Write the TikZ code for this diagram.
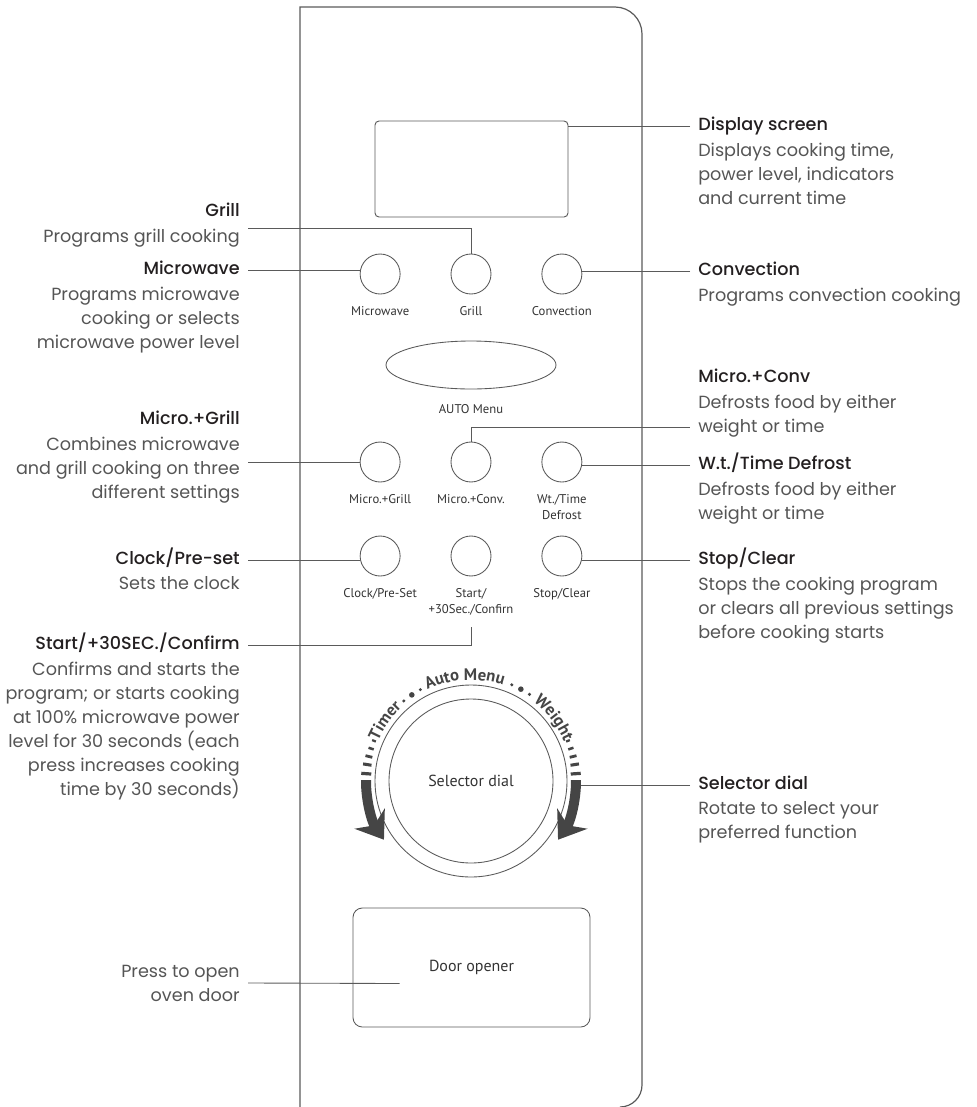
\documentclass[tikz,border=0pt]{standalone}
\usepackage{fontspec}
\setmainfont{Poppins}[BoldFont={Poppins Medium}]
\newfontfamily\panelfont{PT Sans}
\usepackage{tikz}
\usetikzlibrary{positioning,shapes.geometric,arrows.meta,decorations.text,calc}

\definecolor{ink}{HTML}{231F20}
\definecolor{notegray}{HTML}{555555}
\definecolor{wire}{HTML}{5A5A5A}
\definecolor{capgray}{HTML}{333333}
\definecolor{dialink}{HTML}{454545}
\newcommand{\dialfont}{\panelfont\bfseries\fontsize{12.5}{12.5}\selectfont\color{dialink}}

\begin{document}
\begin{tikzpicture}[
    x=0.75pt, y=-0.75pt,
    node distance=37.5pt,
    panel/.style={draw=wire, line width=0.9pt},
    button/.style={circle, draw=wire, line width=0.65pt, minimum size=30pt, inner sep=0pt},
    caption/.style={font=\panelfont\fontsize{9.5}{11.5}\selectfont, text=capgray, inner sep=0pt, align=center},
    heading/.style={font=\bfseries\fontsize{13.2}{18}\selectfont, text=ink, inner xsep=6pt, inner ysep=0pt, text height=9.5pt, text depth=3pt},
    note/.style={font=\fontsize{13.2}{18}\selectfont, text=notegray, inner xsep=6pt, inner ysep=0pt},
    leader/.style={draw=wire, line width=0.65pt},
    sweep/.style={draw=dialink, line width=7.5pt, -{Stealth[length=19pt,width=27pt,inset=6pt]}}
]
\useasboundingbox (0,0) rectangle (976,1107);

% panel outline
\draw[panel] (300,1108) -- (300,7) -- (615,7) arc (-90:0:27) -- (642,1085) arc (0:90:22);

% display and buttons
\node[draw=wire, line width=0.7pt, rounded corners=3pt, minimum width=144.75pt, minimum height=72pt] (disp) at (471.5,169) {};

\node[button] (gr) at (471,274) {};
\node[button, left=of gr] (mw) {};
\node[button, right=of gr] (cv) {};
\node[caption, below=9pt of mw] (mwcap) {Microwave};
\node[caption, below=9pt of gr] (grcap) {Grill};
\node[caption, below=9pt of cv] (cvcap) {Convection};

\node[ellipse, draw=wire, line width=0.65pt, minimum width=127.5pt, minimum height=36pt, inner sep=0pt] (auto) at (471,365) {};
\node[caption, below=11pt of auto] (autocap) {AUTO Menu};

\node[button] (mc) at (471,462) {};
\node[button, left=of mc] (mg) {};
\node[button, right=of mc] (wt) {};
\node[caption, below=9pt of mg] (mgcap) {Micro.+Grill};
\node[caption, below=9pt of mc] (mccap) {Micro.+Conv.};
\node[caption, below=9pt of wt] (wtcap) {Wt./Time\\Defrost};

\node[button] (st) at (471,556) {};
\node[button, left=of st] (ck) {};
\node[button, right=of st] (sc) {};
\node[caption, below=9pt of ck] (ckcap) {Clock/Pre-Set};
\node[caption, below=9pt of st] (stcap) {Start/\\+30Sec./Confirn};
\node[caption, below=9pt of sc] (sccap) {Stop/Clear};

% selector dial
\node[circle, draw=wire, line width=0.65pt, minimum size=144pt, inner sep=0pt, font=\panelfont\fontsize{12}{12}\selectfont, text=capgray] (dial) at (471,781) {Selector dial};
\draw[leader] (dial.center) circle (82);
\draw[sweep] ($(dial.center)+(180.5:105)$) arc (180.5:146:105);
\draw[sweep] ($(dial.center)+(-0.5:105)$) arc (-0.5:34:105);
\foreach \a/\w/\t in {4/10/2.4, 9/8.5/2.3, 13.5/7/2.1, 18/5.5/1.9, 22.5/4/1.7} {
    \draw[dialink, line width=\t pt] ($(dial.center)+(180+\a:105-\w/2)$) -- ($(dial.center)+(180+\a:105+\w/2)$);
    \draw[dialink, line width=\t pt] ($(dial.center)+(-\a:105-\w/2)$) -- ($(dial.center)+(-\a:105+\w/2)$);
}
\path[decorate, decoration={text along path, text align=center, text={|\dialfont|Timer}}]
    ($(dial.center)+(-170:101)$) arc (-170:-120:101);
\path[decorate, decoration={text along path, text align=center, text={|\dialfont|Auto Menu}}]
    ($(dial.center)+(-125:101)$) arc (-125:-62:101);
\path[decorate, decoration={text along path, text align=center, text={|\dialfont|Weight}}]
    ($(dial.center)+(-62:101)$) arc (-62:-13:101);
\foreach \a/\r in {130/1.7, 124.5/2.8, 119/1.7, 67/1.7, 61.5/2.8, 56/1.7}
    \fill[dialink] ($(dial.center)+(-\a:104.5)$) circle (\r);

% door opener
\node[draw=wire, line width=0.65pt, rounded corners=7pt, minimum width=177.75pt, minimum height=89.25pt, font=\panelfont\fontsize{12}{12}\selectfont, text=capgray] (door) at (471.5,967.5) {Door opener};

% left labels
\node[heading, anchor=east] (grhead) at (248,212) {Grill};
\node[note, align=right, below=6pt of grhead.south east, anchor=north east] (grnote) {Programs grill cooking};
\node[heading, anchor=east] (mwhead) at (248,270) {Microwave};
\node[note, align=right, below=6pt of mwhead.south east, anchor=north east] (mwnote) {Programs microwave\\cooking or selects\\microwave power level};
\node[heading, anchor=east] (mghead) at (248,420) {Micro.+Grill};
\node[note, align=right, below=6pt of mghead.south east, anchor=north east] (mgnote) {Combines microwave\\and grill cooking on three\\different settings};
\node[heading, anchor=east] (ckhead) at (248,560) {Clock/Pre-set};
\node[note, align=right, below=6pt of ckhead.south east, anchor=north east] (cknote) {Sets the clock};
\node[heading, anchor=east] (sthead) at (248,645) {Start/+30SEC./Confirm};
\node[note, align=right, below=6pt of sthead.south east, anchor=north east] (stnote) {Confirms and starts the\\program; or starts cooking\\at 100\% microwave power\\level for 30 seconds (each\\press increases cooking\\time by 30 seconds)};
\node[note, align=right, anchor=east] (ponote) at (248,983) {Press to open\\oven door};

% right labels
\node[heading, anchor=west] (dshead) at (690,126) {Display screen};
\node[note, align=left, below=6pt of dshead.south west, anchor=north west] (dsnote) {Displays cooking time,\\power level, indicators\\and current time};
\node[heading, anchor=west] (cvhead) at (690,271) {Convection};
\node[note, align=left, below=6pt of cvhead.south west, anchor=north west] (cvnote) {Programs convection cooking};
\node[heading, anchor=west] (mchead) at (690,378) {Micro.+Conv};
\node[note, align=left, below=6pt of mchead.south west, anchor=north west] (mcnote) {Defrosts food by either\\weight or time};
\node[heading, anchor=west] (wthead) at (690,465) {W.t./Time Defrost};
\node[note, align=left, below=6pt of wthead.south west, anchor=north west] (wtnote) {Defrosts food by either\\weight or time};
\node[heading, anchor=west] (schead) at (690,560) {Stop/Clear};
\node[note, align=left, below=6pt of schead.south west, anchor=north west] (scnote) {Stops the cooking program\\or clears all previous settings\\before cooking starts};
\node[heading, anchor=west] (sdhead) at (690,785) {Selector dial};
\node[note, align=left, below=6pt of sdhead.south west, anchor=north west] (sdnote) {Rotate to select your\\preferred function};

% connector ends
\coordinate (grend) at ([yshift=-6pt]grhead.south east);
\coordinate (mcend) at ([yshift=-30.5pt]mchead.south west);
\coordinate (sweepend) at ($(dial.center)+(110,0)$);
\coordinate (doorpt) at ($(door.west)+(47,16)$);

% connectors
\draw[leader] (gr.north) |- (grend);
\draw[leader] (mwhead.east) -- (mwhead.east -| mw.west);
\draw[leader] (mg.west) -- (mg.west -| mghead.east);
\draw[leader] (ckhead.east) -- (ckhead.east -| ck.west);
\draw[leader, shorten <=9pt] (stcap.south) |- (sthead.east);
\draw[leader] (ponote.east) -- (doorpt);
\draw[leader] (dshead.west) -- (dshead.west -| disp.east);
\draw[leader] (cvhead.west) -- (cvhead.west -| cv.east);
\draw[leader] (mc.north) |- (mcend);
\draw[leader] (wthead.west) -- (wthead.west -| wt.east);
\draw[leader] (schead.west) -- (schead.west -| sc.east);
\draw[leader] (sdhead.west) -- (sdhead.west -| sweepend);

\end{tikzpicture}
\end{document}
